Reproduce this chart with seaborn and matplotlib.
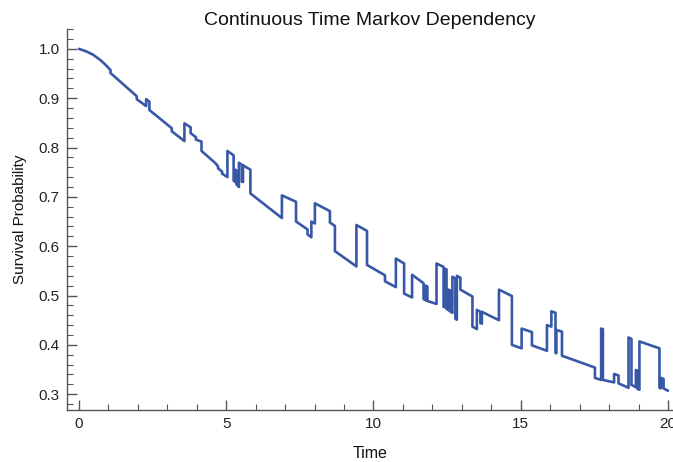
import matplotlib
matplotlib.use("Agg")
import numpy as np
import pandas as pd
import matplotlib.pyplot as plt
from matplotlib.ticker import MultipleLocator
import seaborn as sns

# path vertices (time, survival probability)
time = [
    0.0, 0.24, 0.48, 0.71, 0.88, 1.07, 1.07, 1.96, 1.96, 2.28,
    2.28, 2.39, 2.39, 2.68, 3.15, 3.15, 3.58, 3.58, 3.79, 3.79,
    3.97, 3.97, 4.16, 4.16, 4.62, 4.72, 4.72, 4.86, 4.86, 5.04,
    5.04, 5.25, 5.25, 5.31, 5.31, 5.35, 5.35, 5.43, 5.43, 5.53,
    5.53, 5.57, 5.57, 5.82, 5.82, 6.89, 6.89, 7.37, 7.37, 7.76,
    7.76, 7.89, 7.89, 8.01, 8.01, 8.52, 8.52, 8.69, 8.69, 9.42,
    9.42, 9.78, 9.78, 10.39, 10.39, 10.76, 10.76, 11.04, 11.04, 11.31,
    11.31, 11.70, 11.70, 11.78, 11.78, 11.83, 11.83, 12.14, 12.14, 12.38,
    12.38, 12.45, 12.45, 12.48, 12.48, 12.56, 12.56, 12.60, 12.60, 12.68,
    12.68, 12.78, 12.78, 12.83, 12.83, 12.95, 12.95, 13.36, 13.36, 13.51,
    13.51, 13.63, 13.63, 13.68, 13.68, 14.26, 14.26, 14.70, 14.70, 15.03,
    15.03, 15.38, 15.38, 15.89, 15.89, 16.04, 16.04, 16.18, 16.18, 16.21,
    16.21, 16.40, 16.40, 17.52, 17.52, 17.73, 17.73, 17.79, 17.79, 18.17,
    18.17, 18.32, 18.32, 18.66, 18.66, 18.76, 18.76, 18.91, 18.91, 18.96,
    18.96, 19.03, 19.03, 19.71, 19.71, 19.76, 19.76, 19.85, 19.85, 20.0,
]
survival = [
    1.000, 0.995, 0.988, 0.978, 0.969, 0.957, 0.951, 0.904, 0.898, 0.884,
    0.898, 0.893, 0.876, 0.862, 0.839, 0.833, 0.813, 0.849, 0.841, 0.829,
    0.821, 0.816, 0.812, 0.793, 0.769, 0.762, 0.758, 0.751, 0.747, 0.740,
    0.793, 0.784, 0.733, 0.730, 0.755, 0.753, 0.725, 0.720, 0.769, 0.765,
    0.731, 0.730, 0.764, 0.755, 0.707, 0.657, 0.703, 0.690, 0.650, 0.634,
    0.624, 0.618, 0.650, 0.646, 0.687, 0.671, 0.648, 0.641, 0.590, 0.559,
    0.643, 0.631, 0.562, 0.541, 0.529, 0.517, 0.575, 0.565, 0.504, 0.496,
    0.542, 0.525, 0.493, 0.490, 0.520, 0.518, 0.489, 0.483, 0.565, 0.558,
    0.477, 0.476, 0.554, 0.553, 0.473, 0.470, 0.512, 0.510, 0.468, 0.465,
    0.538, 0.534, 0.453, 0.451, 0.540, 0.536, 0.512, 0.498, 0.437, 0.432,
    0.471, 0.467, 0.444, 0.443, 0.467, 0.450, 0.512, 0.499, 0.400, 0.393,
    0.433, 0.426, 0.399, 0.388, 0.440, 0.437, 0.468, 0.465, 0.384, 0.383,
    0.430, 0.427, 0.378, 0.354, 0.333, 0.329, 0.433, 0.432, 0.329, 0.324,
    0.341, 0.338, 0.322, 0.313, 0.415, 0.412, 0.319, 0.314, 0.349, 0.348,
    0.311, 0.309, 0.407, 0.393, 0.313, 0.312, 0.333, 0.331, 0.312, 0.307,
]

df = pd.DataFrame({"Time": time, "Survival Probability": survival})

sns.set_style("ticks")
plt.rcParams["font.family"] = ["Liberation Sans", "DejaVu Sans"]

fig = plt.figure(figsize=(6.73, 4.62), dpi=100)
ax = fig.add_axes([0.099, 0.112, 0.901, 0.825])

sns.lineplot(data=df, x="Time", y="Survival Probability", sort=False,
             estimator=None, color="#3858a7", linewidth=1.9, ax=ax)

ax.set_xlim(-0.42, 20.17)
ax.set_ylim(0.2675, 1.04)
ax.xaxis.set_major_locator(MultipleLocator(5))
ax.xaxis.set_minor_locator(MultipleLocator(1))
ax.yaxis.set_major_locator(MultipleLocator(0.1))
ax.yaxis.set_minor_locator(MultipleLocator(0.02))
ax.yaxis.set_major_formatter(lambda v, p: f"{v:.1f}")

sns.despine(ax=ax)
for s in ["left", "bottom"]:
    ax.spines[s].set_color("#555555")
    ax.spines[s].set_linewidth(1.0)
ax.tick_params(which="major", direction="in", length=7, width=1.0,
               color="#555555", labelsize=11, labelcolor="#222222", pad=5)
ax.tick_params(which="minor", direction="in", length=4, width=0.8,
               color="#555555")

ax.set_title("Continuous Time Markov Dependency", fontsize=14, color="#111111", pad=3)
ax.set_xlabel("Time", fontsize=11.5, color="#111111", labelpad=11)
ax.set_ylabel("Survival Probability", fontsize=11, color="#111111", labelpad=8)

plt.savefig("out.png", dpi=100)
plt.close()
